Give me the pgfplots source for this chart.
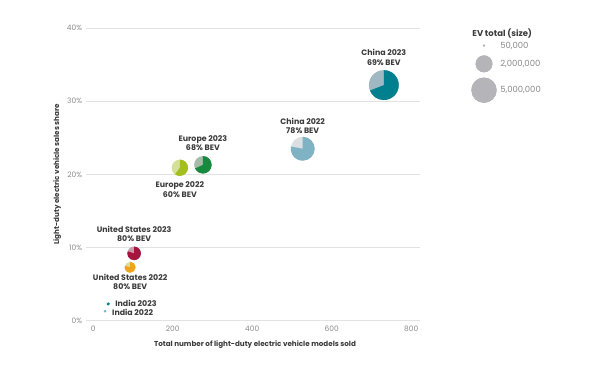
\documentclass[border=0pt]{standalone}
\usepackage{pgfplots}
\pgfplotsset{compat=1.18}
\usepackage{fontspec}
\setmainfont{Poppins}
\definecolor{txt}{HTML}{3A3A3A}
\definecolor{tick}{HTML}{8A8A8A}
\definecolor{gridc}{HTML}{E2E2E2}
\definecolor{cnA}{HTML}{00808F}
\definecolor{cnB}{HTML}{9FB8C2}
\definecolor{cnC}{HTML}{7FB2C3}
\definecolor{cnD}{HTML}{D9DFE3}
\definecolor{euA}{HTML}{168A3E}
\definecolor{euB}{HTML}{A9BAA9}
\definecolor{euC}{HTML}{A3BF1F}
\definecolor{euD}{HTML}{D4E09A}
\definecolor{usA}{HTML}{A3173F}
\definecolor{usB}{HTML}{C99AA8}
\definecolor{usC}{HTML}{F0A31C}
\definecolor{usD}{HTML}{D9DEA0}
\definecolor{lg}{HTML}{B4B4B9}
\colorlet{pieA}{black}\colorlet{pieB}{gray}
\pgfdeclareplotmark{pie}{%
  \pgfsetfillcolor{pieB}%
  \pgfpathcircle{\pgfpointorigin}{\rad pt}\pgfusepath{fill}%
  \pgfmathsetmacro\pieend{90-3.6*\bev}%
  \pgfsetfillcolor{pieA}%
  \pgfpathmoveto{\pgfpointorigin}%
  \pgfpathlineto{\pgfpointpolar{90}{\rad pt}}%
  \pgfpatharc{90}{\pieend}{\rad pt}%
  \pgfpathclose\pgfusepath{fill}%
}
\pgfplotsset{pie/.style 2 args={only marks, scatter, mark=pie,
  visualization depends on={\thisrow{r}\as\rad},
  visualization depends on={\thisrow{b}\as\bev},
  scatter/@pre marker code/.code={\colorlet{pieA}{#1}\colorlet{pieB}{#2}},
  scatter/@post marker code/.code={}}}
\begin{document}
\begin{tikzpicture}
\path[use as bounding box] (0,0) rectangle (605bp,368bp);
\begin{axis}[
  anchor=south west, at={(86bp,47.3bp)},
  scale only axis, width=334bp, height=292.7bp,
  xmin=-18, xmax=822, ymin=0, ymax=40,
  clip=false,
  axis line style={draw=none},
  major tick length=0pt,
  ymajorgrids, grid style={gridc, line width=0.6pt},
  xtick={0,200,400,600,800}, ytick={0,10,20,30,40},
  yticklabel={\pgfmathprintnumber{\tick}\%},
  /pgf/number format/assume math mode=true,
  ticklabel style={font=\fontsize{7.5}{8}\selectfont, text=tick},
  xticklabel style={yshift=-1.5bp},
  yticklabel style={xshift=-0.5bp},
  xlabel={Total number of light-duty electric vehicle models sold},
  ylabel={Light-duty electric vehicle sales share},
  label style={font=\fontsize{7.2}{8}\selectfont\bfseries, text=txt},
  xlabel style={at={(axis description cs:0.506,-0.083)}, anchor=center},
  ylabel style={at={(axis description cs:-0.086,0.5)}, anchor=center},
  nodes={font=\fontsize{7.9}{9.3}\selectfont\bfseries, text=txt, align=center},
]
\addplot[pie={cnA}{cnB}] table[row sep=\\]{x y r b\\ 731 32.2 15 69\\};
\addplot[pie={cnC}{cnD}] table[row sep=\\]{x y r b\\ 527 23.5 12 78\\};
\addplot[pie={euA}{euB}] table[row sep=\\]{x y r b\\ 276 21.3 8.8 68\\};
\addplot[pie={euC}{euD}] table[row sep=\\]{x y r b\\ 218 20.9 8.2 60\\};
\addplot[pie={usA}{usB}] table[row sep=\\]{x y r b\\ 103 9.2 6.8 80\\};
\addplot[pie={usC}{usD}] table[row sep=\\]{x y r b\\ 93 7.3 5.5 80\\};
\addplot[pie={cnA}{cnA}] table[row sep=\\]{x y r b\\ 38 2.3 1.6 80\\};
\addplot[pie={cnC}{cnC}] table[row sep=\\]{x y r b\\ 30 1.3 1.3 80\\};
% size legend
\addplot[pie={lg}{lg}] table[row sep=\\]{x y r b\\ 983 37.6 1.2 100\\ 983 35.1 8.5 100\\ 983 31.5 12.7 100\\};
\node at (axis cs:731,36.0) {China 2023\\69\% BEV};
\node at (axis cs:527,26.6) {China 2022\\78\% BEV};
\node at (axis cs:276,24.3) {Europe 2023\\68\% BEV};
\node at (axis cs:218,17.9) {Europe 2022\\60\% BEV};
\node at (axis cs:103,11.9) {United States 2023\\80\% BEV};
\node at (axis cs:93,5.3) {United States 2022\\80\% BEV};
\node[anchor=west] at (axis cs:47,2.4) {India 2023};
\node[anchor=west] at (axis cs:39,1.2) {India 2022};
\node[anchor=west, font=\fontsize{8.5}{9}\selectfont\bfseries] at (axis cs:945,39.3) {EV total (size)};
\node[anchor=west, font=\fontsize{8.5}{9}\selectfont, text=tick] at (axis cs:1015,37.6) {50,000};
\node[anchor=west, font=\fontsize{8.5}{9}\selectfont, text=tick] at (axis cs:1015,35.1) {2,000,000};
\node[anchor=west, font=\fontsize{8.5}{9}\selectfont, text=tick] at (axis cs:1015,31.5) {5,000,000};
\end{axis}
\end{tikzpicture}
\end{document}
